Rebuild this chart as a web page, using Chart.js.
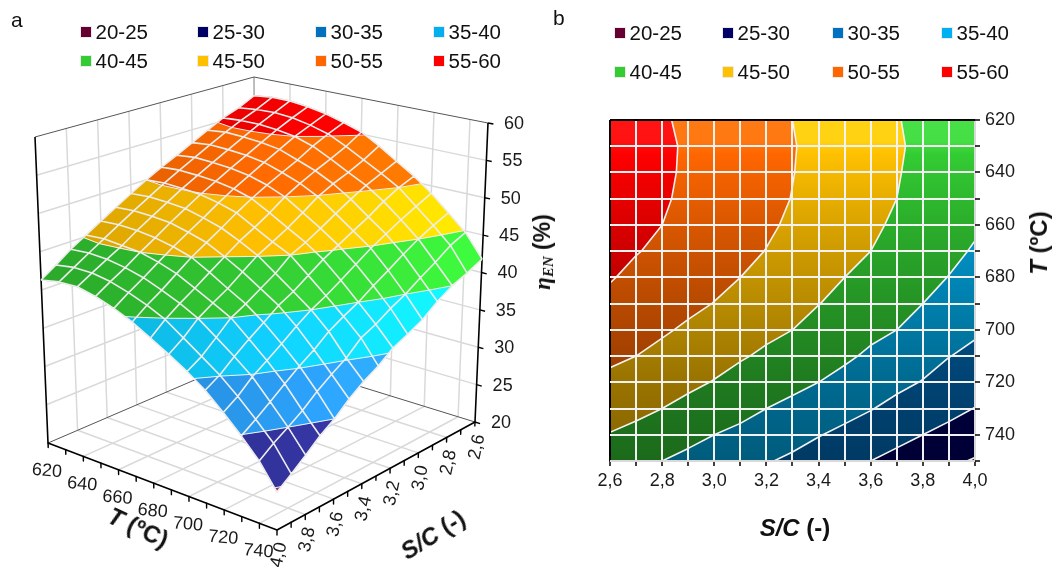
<!DOCTYPE html>
<html>
<head>
<meta charset="utf-8">
<title>Energy efficiency surface and contour</title>
<script src="https://cdn.jsdelivr.net/npm/chart.js@4"></script>
<style>
  html, body { margin: 0; padding: 0; background: #fff; }
  #page { position: relative; width: 1053px; height: 567px; overflow: hidden; font-family: "Liberation Sans", Arial, sans-serif; color: #111; }
  canvas { position: absolute; top: 0; }
  .panel-tag { position: absolute; font-size: 21px; line-height: 24px; }
  .legend-box { position: absolute; width: 10px; height: 10px; outline: 1px solid rgba(0,0,0,0.08); }
  .legend-text { position: absolute; font-size: 20.5px; line-height: 22px; white-space: nowrap; }
  .axis-title { position: absolute; font-weight: bold; font-size: 24px; line-height: 28px; white-space: nowrap; transform: translate(-50%, -50%) rotate(var(--rot)); }
  .axis-title sub { font-size: 15px; vertical-align: -3px; }
</style>
</head>
<body>
<div id="page">
  <canvas id="surfaceChart" width="574" height="567" style="left:0"></canvas>
  <canvas id="contourChart" width="490" height="567" style="left:563px"></canvas>
</div>
<script>
// Eixos da grelha
const sOverC = [2.6, 2.7, 2.8, 2.9, 3.0, 3.1, 3.2, 3.3, 3.4, 3.5, 3.6, 3.7, 3.8, 3.9, 4.0];
const tempC = [620, 630, 640, 650, 660, 670, 680, 690, 700, 710, 720, 730, 740, 750];

// Eficiencia, uma lista por temperatura
const eta620 = [57.3, 56.2, 55.4, 54.3, 53.2, 52.1, 51.1, 50.0, 48.8, 47.6, 46.4, 45.2, 44.0, 42.6, 41.3];
const eta630 = [57.6, 56.5, 55.6, 54.6, 53.5, 52.4, 51.3, 50.2, 49.0, 47.8, 46.6, 45.4, 44.2, 43.0, 41.8];
const eta640 = [57.6, 56.6, 55.6, 54.5, 53.4, 52.3, 51.2, 50.1, 48.9, 47.7, 46.5, 45.2, 44.1, 43.0, 41.9];
const eta650 = [57.3, 56.4, 55.4, 54.3, 53.2, 52.1, 51.0, 49.9, 48.7, 47.5, 46.2, 45.0, 43.7, 42.6, 41.4];
const eta660 = [56.8, 55.9, 55.0, 53.9, 52.8, 51.7, 50.6, 49.4, 48.1, 46.9, 45.7, 44.4, 43.1, 41.9, 40.6];
const eta670 = [56.1, 55.2, 54.2, 53.0, 52.0, 51.0, 49.9, 48.7, 47.4, 46.2, 45.0, 43.6, 42.2, 41.0, 39.6];
const eta680 = [55.3, 54.0, 53.0, 52.1, 51.1, 50.0, 48.6, 47.4, 46.3, 45.0, 43.7, 42.4, 41.2, 39.9, 38.3];
const eta690 = [53.9, 52.7, 51.7, 50.9, 49.9, 48.5, 47.2, 46.1, 45.1, 43.7, 42.3, 41.2, 40.0, 38.3, 37.0];
const eta700 = [52.3, 51.4, 50.5, 49.4, 48.2, 47.0, 45.9, 45.0, 43.4, 42.2, 41.0, 40.0, 38.3, 36.7, 35.6];
const eta710 = [50.8, 50.0, 48.9, 47.6, 46.5, 45.4, 44.3, 43.0, 41.7, 40.7, 39.3, 38.0, 36.6, 35.1, 34.0];
const eta720 = [49.0, 48.0, 47.0, 45.9, 44.8, 43.5, 42.2, 41.0, 40.0, 38.7, 37.3, 36.0, 34.8, 33.2, 32.0];
const eta730 = [46.9, 46.0, 45.0, 43.8, 42.5, 41.3, 40.0, 39.0, 37.9, 36.4, 35.2, 33.8, 32.4, 31.1, 29.9];
const eta740 = [44.8, 43.9, 42.5, 41.3, 40.0, 39.0, 37.8, 36.9, 35.2, 34.0, 32.7, 31.2, 30.0, 28.9, 27.6];
const eta750 = [41.8, 40.8, 40.0, 38.8, 37.3, 36.3, 35.4, 34.0, 32.9, 31.6, 30.0, 28.8, 27.3, 25.9, 24.6];
const etaTable = [eta620, eta630, eta640, eta650, eta660, eta670, eta680, eta690, eta700, eta710, eta720, eta730, eta740, eta750];

// Faixas e ticks
const bandLabels = ['20-25', '25-30', '30-35', '35-40', '40-45', '45-50', '50-55', '55-60'];
const bandEdges = [20, 25, 30, 35, 40, 45, 50, 55, 60];
const legendColours = ['#660033', '#000066', '#0070c0', '#00b0f0', '#33cc33', '#ffc000', '#ff6600', '#ff0000'];
const surfaceColours = ['#a02c62', '#33339e', '#2a9cf2', '#10cfff', '#33cc33', '#ffc000', '#ff6a00', '#f00000'];
const tempTicks = [620, 640, 660, 680, 700, 720, 740];
const ratioTicks = [2.6, 2.8, 3.0, 3.2, 3.4, 3.6, 3.8, 4.0];
const etaTicks = [20, 25, 30, 35, 40, 45, 50, 55, 60];

// Cantos da caixa 3D no canvas (chao e topo)
const floorBox = { D: [255, 354], C: [475, 422], A: [48, 443], B: [277, 530] };
const topBox = { D: [254, 77], C: [488, 123], A: [35, 137], B: [277, 200] };

const TEXT = '#1a1a1a';
const GRID = '#d9d9d9';
const FONT = '"Liberation Sans", Arial, sans-serif';

function project(s, t, e) {
    const u = (t - 620) / 130, v = (s - 2.6) / 1.4, w = (e - 20) / 40;
    const mix = (box, k) => (1 - u) * (1 - v) * box.D[k] + u * (1 - v) * box.C[k] + (1 - u) * v * box.A[k] + u * v * box.B[k];
    return {
        x: (1 - w) * mix(floorBox, 0) + w * mix(topBox, 0),
        y: (1 - w) * mix(floorBox, 1) + w * mix(topBox, 1)
    };
}

//Recorta um poligono da celula numa faixa de eficiencia
function clipAt(poly, level, keepAbove) {
    const out = [];
    poly.forEach((a, i) => {
        const b = poly[(i + 1) % poly.length];
        const aIn = keepAbove ? a.e >= level : a.e <= level;
        const bIn = keepAbove ? b.e >= level : b.e <= level;
        if (aIn) out.push(a);
        if (aIn !== bIn) {
            const k = (level - a.e) / (b.e - a.e);
            out.push({ s: a.s + k * (b.s - a.s), t: a.t + k * (b.t - a.t), e: level });
        }
    });
    return out;
}

function cellCorners(i, j) {
    const p = (jj, ii) => ({ s: sOverC[ii], t: tempC[jj], e: etaTable[jj][ii] });
    return [p(j, i), p(j, i + 1), p(j + 1, i + 1), p(j + 1, i)];
}

//Pedacos de todas as celulas, de tras para a frente
function buildPatches() {
    const patches = [];
    for (let j = 0; j < tempC.length - 1; j++) {
        for (let i = 0; i < sOverC.length - 1; i++) {
            const cell = cellCorners(i, j);
            bandLabels.forEach((label, band) => {
                const pts = clipAt(clipAt(cell, bandEdges[band], true), bandEdges[band + 1], false);
                if (pts.length >= 3) patches.push({ band, pts, s: sOverC[i] + 0.05, t: tempC[j] + 5 });
            });
        }
    }
    return patches;
}

//Segmentos de contorno, separados por pontos nulos
function buildContourSegments() {
    const segs = [];
    for (let j = 0; j < tempC.length - 1; j++) {
        for (let i = 0; i < sOverC.length - 1; i++) {
            const cell = cellCorners(i, j);
            bandEdges.slice(1, -1).forEach(level => {
                const hits = [];
                cell.forEach((a, k) => {
                    const b = cell[(k + 1) % 4];
                    if ((a.e < level) !== (b.e < level)) {
                        const r = (level - a.e) / (b.e - a.e);
                        hits.push({ s: a.s + r * (b.s - a.s), t: a.t + r * (b.t - a.t), e: level });
                    }
                });
                for (let h = 0; h + 1 < hits.length; h += 2) segs.push(hits[h], hits[h + 1], null);
            });
        }
    }
    return segs;
}

function withGaps(list, toPoint) {
    return list.map(p => p ? toPoint(p) : { x: null, y: null });
}

function lineSet(data, color, width, extra) {
    return Object.assign({ data, showLine: true, pointRadius: 0, borderColor: color, borderWidth: width, fill: false, tension: 0, borderJoinStyle: 'round' }, extra || {});
}

function shade(hex, f, add) {
    const n = parseInt(hex.slice(1), 16);
    const c = [n >> 16, (n >> 8) & 255, n & 255].map(v => Math.min(255, Math.round(v * f + add * 255)));
    return `rgb(${c[0]},${c[1]},${c[2]})`;
}

const patches = buildPatches();
const contourSegs = buildContourSegments();

// ---------- Painel a: superficie 3D ----------
function surfaceDatasets() {
    const sets = [];
    const proj = p => project(p.s, p.t, p.e);

    //Paredes e chao
    const walls = [];
    const seg = (a, b) => { walls.push(a, b, null); };
    ratioTicks.slice(1, -1).forEach(s => {
        seg({ s, t: 620, e: 20 }, { s, t: 620, e: 60 });
    });
    tempTicks.slice(1).forEach(t => {
        seg({ s: 2.6, t, e: 20 }, { s: 2.6, t, e: 60 });
    });
    etaTicks.slice(1, -1).forEach(e => {
        seg({ s: 4.0, t: 620, e }, { s: 2.6, t: 620, e });
        seg({ s: 2.6, t: 620, e }, { s: 2.6, t: 750, e });
    });
    ratioTicks.slice(1, -1).forEach(s => seg({ s, t: 620, e: 20 }, { s, t: 750, e: 20 }));
    tempTicks.slice(1).forEach(t => seg({ s: 2.6, t, e: 20 }, { s: 4.0, t, e: 20 }));
    sets.push(lineSet(withGaps(walls, proj), GRID, 1.5));
    sets.push(lineSet([proj({ s: 2.6, t: 620, e: 20 }), proj({ s: 2.6, t: 620, e: 60 })], '#a8a8a8', 1.5));

    //Arestas finas do fundo
    const back = [];
    back.push({ s: 4.0, t: 620, e: 60 }, { s: 2.6, t: 620, e: 60 }, { s: 2.6, t: 750, e: 60 }, null);
    back.push({ s: 4.0, t: 620, e: 20 }, { s: 2.6, t: 620, e: 20 }, { s: 2.6, t: 750, e: 20 }, null);
    sets.push(lineSet(withGaps(back, proj), '#555', 1));

    //Eixos da frente e marcas
    const frame = [];
    frame.push({ s: 4.0, t: 620, e: 60 }, { s: 4.0, t: 620, e: 20 }, { s: 4.0, t: 750, e: 20 }, { s: 2.6, t: 750, e: 20 }, { s: 2.6, t: 750, e: 60 }, null);
    sets.push(lineSet(withGaps(frame, proj), '#000', 1.6));

    const marks = [];
    tempC.forEach(t => marks.push({ s: 4.0, t, e: 20 }, { s: 4.0, t, e: 19.4 }, null));
    sOverC.forEach(s => marks.push({ s, t: 750, e: 20 }, { s, t: 750, e: 19.4 }, null));
    etaTicks.forEach(e => marks.push({ s: 2.6, t: 750, e }, { s: 2.6, t: 753, e }, null));
    sets.push(lineSet(withGaps(marks, proj), '#000', 1.4));

    //Superficie
    patches.forEach(p => {
        const q = (p.t - 620) / 130 - (p.s - 2.6) / 1.4;
        const f = q > 0 ? 1 + 0.25 * q : 1 + 0.18 * q;
        const color = shade(surfaceColours[p.band], f, 0);
        const data = p.pts.concat(p.pts[0]).map(proj);
        sets.push(lineSet(data, color, 0.7, { fill: 'shape', backgroundColor: color }));
    });

    //Malha branca e contornos
    const mesh = [];
    tempC.forEach((t, j) => {
        sOverC.forEach((s, i) => mesh.push({ s, t, e: etaTable[j][i] }));
        mesh.push(null);
    });
    sOverC.forEach((s, i) => {
        tempC.forEach((t, j) => mesh.push({ s, t, e: etaTable[j][i] }));
        mesh.push(null);
    });
    sets.push(lineSet(withGaps(contourSegs, proj), '#f2f2f2', 1));
    sets.push(lineSet(withGaps(mesh, proj), '#ededed', 1.6));
    return sets.reverse();
}

const tickTextPlugin = {
    id: 'tickText',
    afterDatasetsDraw(chart) {
        const { ctx, scales: { x, y } } = chart;
        const put = (p, dx, dy, rot, text) => {
            ctx.save();
            ctx.translate(x.getPixelForValue(p.x) + dx, y.getPixelForValue(p.y) + dy);
            ctx.rotate(rot * Math.PI / 180);
            ctx.font = `18px ${FONT}`;
            ctx.fillStyle = TEXT;
            ctx.textAlign = 'center';
            ctx.textBaseline = 'middle';
            ctx.fillText(text, 0, 0);
            ctx.restore();
        };
        tempTicks.forEach(t => put(project(4.0, t, 20), -1, 28, 5, String(t)));
        ratioTicks.forEach(s => put(project(s, 750, 20), 2, 25, -78, s.toFixed(1).replace('.', ',')));
        etaTicks.forEach(e => put(project(2.6, 750, e), 26, 1, 0, String(e)));
    }
};

new Chart(document.getElementById('surfaceChart'), {
    type: 'scatter',
    data: { datasets: surfaceDatasets() },
    options: {
        responsive: false,
        animation: false,
        devicePixelRatio: 1,
        events: [],
        layout: { padding: 0 },
        scales: {
            x: { type: 'linear', display: false, min: 0, max: 574 },
            y: { type: 'linear', display: false, min: 0, max: 567, reverse: true }
        },
        plugins: { legend: { display: false }, tooltip: { enabled: false } }
    },
    plugins: [tickTextPlugin]
});

// ---------- Painel b: contornos ----------
const depthStops = [[620, 1, 0.08], [628, 1, 0.07], [633, 1, 0], [660, 0.85, 0], [680, 0.76, 0], [700, 0.68, 0], [720, 0.6, 0], [750, 0.52, 0]];

function contourDatasets() {
    const flat = p => ({ x: p.s, y: p.t });
    const sets = patches.map(p => {
        const base = legendColours[p.band];
        return lineSet(p.pts.concat(p.pts[0]).map(flat), base, 0.7, { fill: 'shape', backgroundColor: base, band: p.band });
    });
    sets.push(lineSet(withGaps(contourSegs, flat), '#f2f2f2', 1.6));
    return sets.reverse();
}

const isEven = v => Math.round(v * 10) % 2 === 0;

const contourChart = new Chart(document.getElementById('contourChart'), {
    type: 'scatter',
    data: { datasets: contourDatasets() },
    options: {
        responsive: false,
        animation: false,
        devicePixelRatio: 1,
        events: [],
        layout: { padding: { left: 47, top: 120 } },
        scales: {
            x: {
                type: 'linear',
                position: 'bottom',
                min: 2.6,
                max: 4.0,
                afterFit: scale => { scale.height = 106; },
                border: { display: false },
                grid: {
                    z: 1,
                    lineWidth: 2,
                    tickLength: 5,
                    tickColor: '#000',
                    tickWidth: 1.5,
                    color: c => c.tick && Math.abs(c.tick.value - 2.6) < 0.01 ? '#000' : (c.tick && Math.abs(c.tick.value - 4) < 0.01 ? '#d9d9d9' : '#f2f2f2')
                },
                ticks: {
                    stepSize: 0.1,
                    autoSkip: false,
                    maxRotation: 0,
                    padding: 4,
                    color: TEXT,
                    font: { family: FONT, size: 18 },
                    callback: v => isEven(v) ? v.toFixed(1).replace('.', ',') : ''
                }
            },
            y: {
                type: 'linear',
                position: 'right',
                reverse: true,
                min: 620,
                max: 750,
                afterFit: scale => { scale.width = 78; },
                border: { display: false },
                grid: {
                    z: 1,
                    lineWidth: 2,
                    tickLength: 5,
                    tickColor: '#000',
                    tickWidth: 1.5,
                    color: c => c.tick && c.tick.value === 620 ? '#000' : (c.tick && c.tick.value === 750 ? '#d9d9d9' : '#f2f2f2')
                },
                ticks: {
                    stepSize: 10,
                    autoSkip: false,
                    padding: 5,
                    color: TEXT,
                    font: { family: FONT, size: 18 },
                    callback: v => (tempTicks.includes(v) ? String(v) : '')
                }
            }
        },
        plugins: { legend: { display: false }, tooltip: { enabled: false } }
    }
});

//Gradiente de cada faixa, depois de a escala ter posicoes
const yScale = contourChart.scales.y;
const gradients = legendColours.map(base => {
    const g = contourChart.ctx.createLinearGradient(0, yScale.getPixelForValue(620), 0, yScale.getPixelForValue(750));
    depthStops.forEach(([t, f, add]) => g.addColorStop((t - 620) / 130, shade(base, f, add)));
    return g;
});
contourChart.data.datasets.forEach(ds => {
    if (ds.band !== undefined) {
        ds.backgroundColor = gradients[ds.band];
        ds.borderColor = gradients[ds.band];
    }
});
contourChart.update();

// ---------- Legendas e titulos em HTML ----------
const page = document.getElementById('page');

function addLegend(columns, rows) {
    bandLabels.forEach((label, k) => {
        const col = columns[k % 4];
        const row = rows[Math.floor(k / 4)];
        const box = document.createElement('div');
        box.className = 'legend-box';
        box.style.left = col + 'px';
        box.style.top = (row - 5) + 'px';
        box.style.background = legendColours[k];
        page.appendChild(box);
        const text = document.createElement('div');
        text.className = 'legend-text';
        text.textContent = label;
        text.style.left = (col + 14.5) + 'px';
        text.style.top = (row - 11) + 'px';
        page.appendChild(text);
    });
}
addLegend([81, 198, 316, 434], [32, 61]);
addLegend([615, 723, 833, 942], [33, 72]);

function addTag(text, left, top) {
    const el = document.createElement('div');
    el.className = 'panel-tag';
    el.textContent = text;
    el.style.left = left + 'px';
    el.style.top = top + 'px';
    page.appendChild(el);
}
addTag('a', 11, 8);
addTag('b', 553, 6);

function addTitle(html, left, top, rot, size) {
    const el = document.createElement('div');
    el.className = 'axis-title';
    el.innerHTML = html;
    el.style.left = left + 'px';
    el.style.top = top + 'px';
    el.style.setProperty('--rot', rot + 'deg');
    if (size) el.style.fontSize = size + 'px';
    page.appendChild(el);
}
addTitle('<i>T</i> (ºC)', 138, 528, 25);
addTitle('<i>S/C</i> (-)', 433, 535, -32);
addTitle('<i style="font-family:\'Liberation Serif\',serif">η<sub>EN</sub></i> (%)', 545, 252, -90, 23);
addTitle('<i>S/C</i> (-)', 795, 528, 0);
addTitle('<i>T</i> (ºC)', 1039, 243, -90);
</script>
</body>
</html>
